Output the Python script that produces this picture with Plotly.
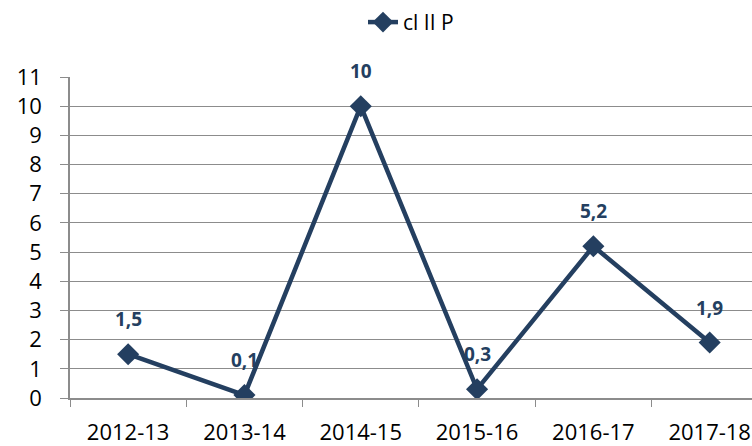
import plotly.graph_objects as go

categories = ["2012-13", "2013-14", "2014-15", "2015-16", "2016-17", "2017-18"]
values = [1.5, 0.1, 10, 0.3, 5.2, 1.9]
labels = ["1,5", "0,1", "10", "0,3", "5,2", "1,9"]
series_name = "cl II P"
y_ticks = list(range(0, 12))

navy = "#243f60"
grid = "#8c8c8c"
font_family = "Open Sans, Liberation Sans, Arial, sans-serif"

fig = go.Figure()
fig.add_trace(go.Scatter(
    x=categories, y=values, mode="lines+markers", name=series_name,
    line=dict(color=navy, width=4.5),
    marker=dict(symbol="diamond", size=17, color=navy),
))

for c, v, t in zip(categories, values, labels):
    fig.add_annotation(x=c, y=v, text="<b>%s</b>" % t, showarrow=False,
                       yshift=35, font=dict(size=19, color=navy, family=font_family))

n = len(categories)
fig.update_layout(
    width=752, height=446,
    margin=dict(l=70, r=0, t=77, b=48),
    paper_bgcolor="white", plot_bgcolor="white",
    font=dict(family=font_family, size=22, color="black"),
    showlegend=True,
    legend=dict(orientation="h", x=0.5, xanchor="center", y=1.17, yanchor="middle",
                font=dict(size=21, color="black")),
    xaxis=dict(type="category", range=[-0.5, n - 0.5 - 0.136],
               tickson="boundaries", ticks="outside", ticklen=7, tickcolor=grid,
               showline=True, linecolor=grid, linewidth=1.5, showgrid=False,
               ticklabelstandoff=14, tickfont=dict(size=22)),
    yaxis=dict(range=[0, 11], tickvals=y_ticks, ticks="outside", ticklen=8,
               tickcolor=grid, showline=True, linecolor=grid, linewidth=1.5,
               showgrid=True, gridcolor=grid, gridwidth=1.2, zeroline=False,
               ticklabelstandoff=14, tickfont=dict(size=22)),
)

fig.write_html("out.html", config={"displayModeBar": False},
               post_script="document.body.style.margin='0';document.body.style.overflow='hidden';")
